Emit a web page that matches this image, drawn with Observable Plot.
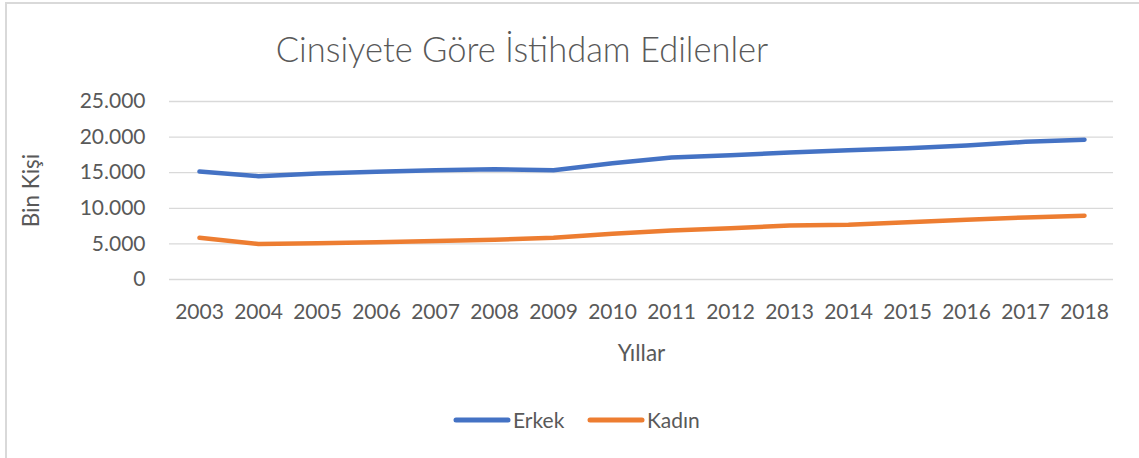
<!DOCTYPE html>
<html>
<head>
<meta charset="utf-8">
<script src="https://cdn.jsdelivr.net/npm/d3@7"></script>
<script src="https://cdn.jsdelivr.net/npm/@observablehq/plot@0.6"></script>
<style>
  html, body { margin: 0; padding: 0; background: #ffffff; }
  #wrap { position: relative; width: 1139px; height: 458px; overflow: hidden; font-family: Lato, "Open Sans", sans-serif; }
  #frame { position: absolute; left: 5px; top: 2px; width: 1200px; height: 500px; border-left: 2px solid #D9D9D9; border-top: 2px solid #D9D9D9; }
  #chart { position: absolute; left: 0; top: 0; }
  #overlay { position: absolute; left: 0; top: 0; pointer-events: none; }
  #chart g[aria-label="x-axis label"], #chart g[aria-label="y-axis label"] { font-size: 22.5px; }
</style>
</head>
<body>
<div id="wrap">
  <div id="frame"></div>
  <div id="chart"></div>
  <svg id="overlay" width="1139" height="458"></svg>
</div>
<script>
// ---- Data ----
const title = "Cinsiyete Göre İstihdam Edilenler";
const xLabel = "Yıllar";
const yLabel = "Bin Kişi";
const years = ["2003","2004","2005","2006","2007","2008","2009","2010","2011","2012","2013","2014","2015","2016","2017","2018"];
const seriesNames = ["Erkek", "Kadın"];
const seriesColors = ["#4472C4", "#ED7D31"];
const erkek = [15170, 14510, 14890, 15120, 15350, 15500, 15350, 16330, 17130, 17460, 17820, 18160, 18440, 18820, 19340, 19620];
const kadin = [5850, 5000, 5100, 5240, 5420, 5600, 5860, 6420, 6880, 7200, 7580, 7680, 8050, 8380, 8710, 8950];
const yTicks = [0, 5000, 10000, 15000, 20000, 25000];

// ---- Build ----
const fmt = d3.formatLocale({decimal: ",", thousands: ".", grouping: [3], currency: ["", ""]}).format(",");
const table = years.flatMap((yr, i) => [
  {year: yr, value: erkek[i], series: seriesNames[0]},
  {year: yr, value: kadin[i], series: seriesNames[1]}
]);

const chart = Plot.plot({
  width: 1139,
  height: 458,
  marginLeft: 169,
  marginRight: 26,
  marginTop: 101,
  marginBottom: 179,
  style: {fontFamily: "Lato, 'Open Sans', sans-serif", fontSize: "21px", color: "#595959", background: "transparent", overflow: "visible"},
  x: {type: "point", domain: years, padding: 0.5},
  y: {domain: [0, 25000]},
  color: {domain: seriesNames, range: seriesColors},
  marks: [
    Plot.gridY(yTicks, {stroke: "#D9D9D9", strokeOpacity: 1, strokeWidth: 1.3}),
    Plot.axisY(yTicks, {tickSize: 0, tickPadding: 24, tickFormat: fmt, fontSize: 21, label: yLabel, labelAnchor: "center", labelOffset: 146, labelArrow: "none", fill: "#595959"}),
    Plot.axisX({tickSize: 0, tickPadding: 25, fontSize: 21, label: xLabel, labelAnchor: "center", labelOffset: 81, labelArrow: "none", fill: "#595959"}),
    Plot.line(table, {x: "year", y: "value", z: "series", stroke: "series", strokeWidth: 4.5, strokeLinecap: "round", strokeLinejoin: "round"})
  ]
});
document.getElementById("chart").appendChild(chart);

// ---- Title and legend ----
const ov = d3.select("#overlay");
ov.append("text")
  .attr("x", 522).attr("y", 62)
  .attr("text-anchor", "middle")
  .style("font-family", "Lato, 'Open Sans', sans-serif")
  .style("font-size", "34.5px")
  .style("font-weight", "300")
  .attr("fill", "#595959")
  .text(title);

const legendX = [454, 588];
seriesNames.forEach((name, i) => {
  const x0 = legendX[i];
  ov.append("line")
    .attr("x1", x0 + 2).attr("x2", x0 + 54)
    .attr("y1", 420).attr("y2", 420)
    .attr("stroke", seriesColors[i]).attr("stroke-width", 5).attr("stroke-linecap", "round");
  ov.append("text")
    .attr("x", x0 + 59).attr("y", 428)
    .style("font-family", "Lato, 'Open Sans', sans-serif")
    .style("font-size", "21px")
    .attr("fill", "#595959")
    .text(name);
});
</script>
</body>
</html>
